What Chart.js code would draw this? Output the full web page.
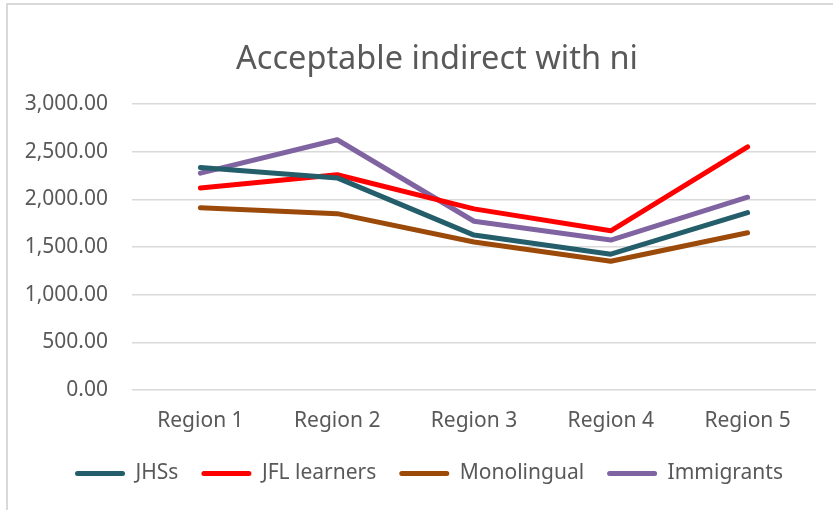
<!DOCTYPE html>
<html>
<head>
<meta charset="utf-8">
<script src="https://cdn.jsdelivr.net/npm/chart.js@4"></script>
<style>
  body { margin: 0; background: #fff; }
  #wrap { position: relative; width: 833px; height: 510px; }
  #frame {
    position: absolute; left: 6px; top: 3px; right: -10px; bottom: -10px;
    border-left: 2px solid #d9d9d9; border-top: 2px solid #d9d9d9;
    pointer-events: none;
  }
</style>
</head>
<body>
<div id="wrap">
  <canvas id="chart" width="833" height="510"></canvas>
  <div id="frame"></div>
</div>
<script>
const regions = ["Region 1", "Region 2", "Region 3", "Region 4", "Region 5"];
const jhss = [2335, 2225, 1625, 1425, 1860];
const jflLearners = [2120, 2258, 1900, 1670, 2550];
const monolingual = [1912, 1850, 1552, 1350, 1650];
const immigrants = [2275, 2625, 1770, 1573, 2022];

const seriesNames = ["JHSs", "JFL learners", "Monolingual", "Immigrants"];
const seriesColors = ["#255e6b", "#ff0000", "#9c4a0a", "#8064a2"];
const seriesValues = [jhss, jflLearners, monolingual, immigrants];

const textColor = "#595959";
const fontFamily = "'Noto Sans', 'Open Sans', sans-serif";

// title and legend sit a little right of centre in the original
const shiftBlocks = {
  id: "shiftBlocks",
  afterLayout(chart) {
    chart.titleBlock.left += 25;
    chart.titleBlock.right += 25;
    chart.legend.left += 17;
    chart.legend.right += 17;
  },
};

new Chart("chart", {
  type: "line",
  plugins: [shiftBlocks],
  data: {
    labels: regions,
    datasets: seriesNames.map((name, i) => ({
      label: name,
      data: seriesValues[i],
      borderColor: seriesColors[i],
      backgroundColor: seriesColors[i],
      borderWidth: 5,
      borderCapStyle: "round",
      borderJoinStyle: "round",
      pointRadius: 0,
      tension: 0,
    })),
  },
  options: {
    responsive: false,
    animation: false,
    events: [],
    layout: {
      padding: { left: 8, right: 17, top: 0, bottom: 16 },
    },
    scales: {
      x: {
        offset: true,
        grid: { display: false },
        border: { display: false },
        ticks: {
          color: textColor,
          font: { family: fontFamily, size: 21 },
          padding: 10,
        },
        afterFit: (scale) => {
          scale.height = 50;
        },
      },
      y: {
        min: 0,
        max: 3000,
        ticks: {
          stepSize: 500,
          color: textColor,
          padding: 24,
          font: { family: fontFamily, size: 21 },
          callback: (v) =>
            v.toLocaleString("en-US", {
              minimumFractionDigits: 2,
              maximumFractionDigits: 2,
            }),
        },
        grid: {
          color: "#d9d9d9",
          lineWidth: 1.5,
          drawTicks: false,
          tickLength: 0,
        },
        border: { display: false },
        afterFit: (scale) => {
          scale.width = 124;
        },
      },
    },
    plugins: {
      title: {
        display: true,
        text: "Acceptable indirect with ni",
        color: textColor,
        font: { family: fontFamily, size: 32.5, weight: "normal" },
        padding: { top: 40, bottom: 25 },
      },
      legend: {
        position: "bottom",
        labels: {
          color: textColor,
          font: { family: fontFamily, size: 21 },
          boxWidth: 50,
          boxHeight: 5,
          padding: 23,
          useBorderRadius: true,
          borderRadius: 2.5,
          generateLabels: (chart) =>
            Chart.defaults.plugins.legend.labels
              .generateLabels(chart)
              .map((item) => ({ ...item, lineWidth: 0 })),
        },
      },
      tooltip: { enabled: false },
    },
  },
});
</script>
</body>
</html>
